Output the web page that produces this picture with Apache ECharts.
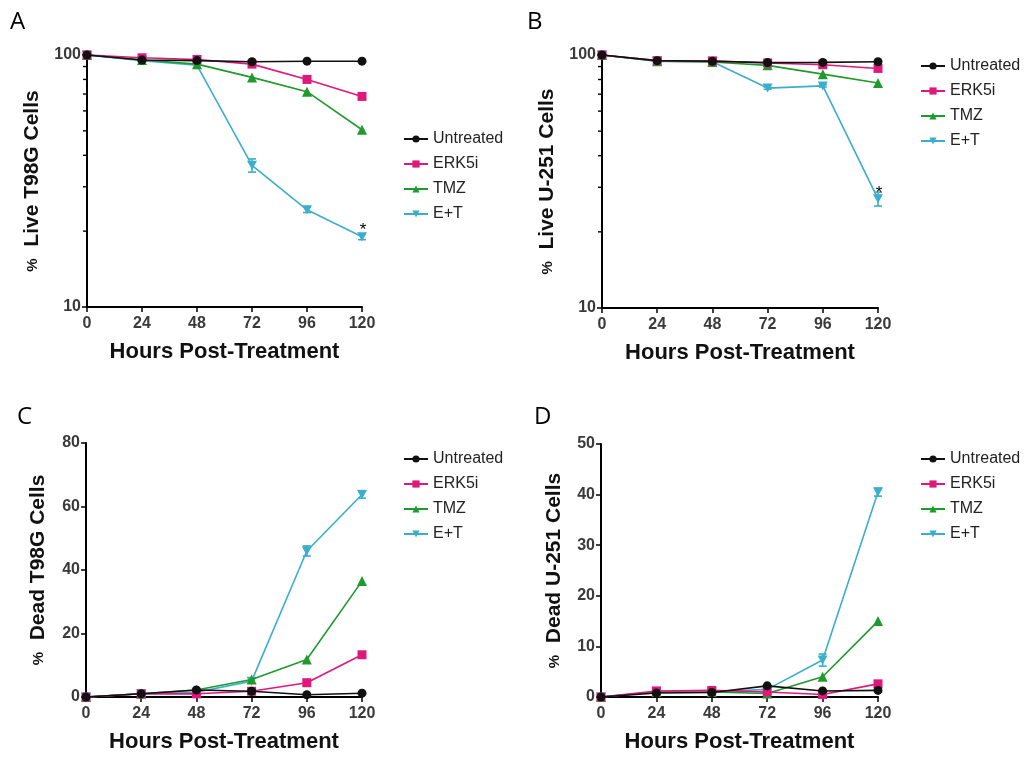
<!DOCTYPE html>
<html>
<head>
<meta charset="utf-8">
<script src="https://cdn.jsdelivr.net/npm/echarts@6/dist/echarts.min.js"></script>
<style>
  html, body { margin: 0; padding: 0; background: #fff; }
  #chart { width: 1025px; height: 758px; }
</style>
</head>
<body>
<div id="chart"></div>
<script>
// Time points (hours after treatment)
const hours = [0, 24, 48, 72, 96, 120];
const groupNames = ['Untreated', 'ERK5i', 'TMZ', 'E+T'];

// A: % live T98G cells
const liveT98G_untreated = [100, 95.5, 95, 94, 94.5, 94.5];
const liveT98G_erk5i = [100, 97.5, 96, 92, 80, 68.5];
const liveT98G_tmz = [100, 95.5, 92, 81.5, 71.5, 50.5];
const liveT98G_et = [100, 95, 91, 36.5, 24.3, 19];
const liveT98G_et_err = [0, 0, 0, 2.2, 0.6, 0.5];

// B: % live U-251 cells
const liveU251_untreated = [100, 95, 94.5, 93.3, 93.5, 94];
const liveU251_erk5i = [100, 95, 94.8, 93, 91.5, 88.5];
const liveU251_tmz = [100, 94.5, 93.8, 91, 84, 77.5];
const liveU251_et = [100, 94.5, 94, 74, 75.5, 27];
const liveU251_et_err = [0, 0, 0, 0.8, 0.8, 1.7];

// C: % dead T98G cells
const deadT98G_untreated = [0, 1, 2.2, 1.8, 0.7, 1.2];
const deadT98G_erk5i = [0, 1, 1, 1.8, 4.5, 13.3];
const deadT98G_tmz = [0, 1, 2.2, 5.5, 11.8, 36.5];
const deadT98G_et = [0, 1, 1.5, 5, 46, 63.8];
const deadT98G_et_err = [0, 0, 0, 0, 1.6, 1.2];

// D: % dead U-251 cells
const deadU251_untreated = [0, 0.8, 0.9, 2.2, 1.2, 1.3];
const deadU251_erk5i = [0, 1.2, 1.3, 1.0, 0.5, 2.6];
const deadU251_tmz = [0, 1, 1, 0.7, 4, 15];
const deadU251_et = [0, 1, 1, 1.5, 7.3, 40.5];
const deadU251_et_err = [0, 0, 0, 0, 1.2, 0.8];

// Axis tick labels and ranges
const xTicks = { min: 0, max: 120, interval: 24 };
const logMinorTicks = [20, 30, 40, 50, 60, 70, 80, 90];
const deadT98GRange = { min: 0, max: 80, interval: 20 };
const deadU251Range = { min: 0, max: 50, interval: 10 };

// Panel titles
const panelLetters = ['A', 'B', 'C', 'D'];
const yTitles = ['Live T98G Cells', 'Live U-251 Cells', 'Dead T98G Cells', 'Dead U-251 Cells'];
const xTitle = 'Hours Post-Treatment';

const colors = ['#111111', '#E0187C', '#1F9A2C', '#3AAECB'];
const symbols = ['circle', 'rect', 'triangle', 'path://M0,0 L10,0 L5,9 Z'];
const symbolSizes = [9, 9, 10, [10, 9]];

const panels = [
  { series: [liveT98G_untreated, liveT98G_erk5i, liveT98G_tmz, liveT98G_et], err: liveT98G_et_err, log: true, star: true },
  { series: [liveU251_untreated, liveU251_erk5i, liveU251_tmz, liveU251_et], err: liveU251_et_err, log: true, star: true },
  { series: [deadT98G_untreated, deadT98G_erk5i, deadT98G_tmz, deadT98G_et], err: deadT98G_et_err, range: deadT98GRange },
  { series: [deadU251_untreated, deadU251_erk5i, deadU251_tmz, deadU251_et], err: deadU251_et_err, range: deadU251Range }
];

const layout = [
  { left: 87, top: 55, width: 275, height: 252, legendLeft: 398, legendTop: 126, nameGap: 44, letter: [10, 10] },
  { left: 602, top: 55, width: 276, height: 253, legendLeft: 915, legendTop: 53, nameGap: 44, letter: [527, 10] },
  { left: 86, top: 443, width: 276, height: 254, legendLeft: 398, legendTop: 446, nameGap: 37, letter: [17, 405] },
  { left: 601, top: 444, width: 277, height: 253, legendLeft: 915, legendTop: 446, nameGap: 36, letter: [534, 405] }
];

const FONT = 'Liberation Sans, Arial, Helvetica, sans-serif';
const axisLine = { show: true, lineStyle: { color: '#000', width: 2 } };
const axisTick = { show: true, inside: false, length: 5, lineStyle: { color: '#000', width: 1.5 } };
const tickLabel = { color: '#3a3a3a', fontFamily: FONT, fontWeight: 'bold', fontSize: 16, hideOverlap: false };

const grid = [], xAxis = [], yAxis = [], legend = [], series = [], graphic = [];

panels.forEach((p, i) => {
  const L = layout[i];
  grid.push({ left: L.left, top: L.top, width: L.width, height: L.height, containLabel: false });

  xAxis.push({
    gridIndex: i, type: 'value', min: xTicks.min, max: xTicks.max, interval: xTicks.interval,
    axisLine, axisTick, splitLine: { show: false },
    axisLabel: Object.assign({ margin: 9 }, tickLabel),
    name: xTitle, nameLocation: 'middle', nameGap: 34,
    nameTextStyle: { color: '#111', fontFamily: FONT, fontWeight: 'bold', fontSize: 22 }
  });

  const yBase = {
    gridIndex: i, axisLine, axisTick, splitLine: { show: false },
    axisLabel: Object.assign({ margin: 6 }, tickLabel),
    name: '{p|%}  ' + yTitles[i], nameLocation: 'middle', nameGap: L.nameGap, nameRotate: 90,
    nameTextStyle: {
      color: '#111', fontFamily: FONT, fontWeight: 'bold', fontSize: 21,
      rich: { p: { fontFamily: FONT, fontWeight: 'bold', fontSize: 15, color: '#111' } }
    }
  };
  if (p.log) {
    yAxis.push(Object.assign(yBase, { type: 'log', logBase: 10, min: 10, max: 100 }));
  } else {
    yAxis.push(Object.assign(yBase, { type: 'value', min: p.range.min, max: p.range.max, interval: p.range.interval }));
  }

  legend.push({
    orient: 'vertical', left: L.legendLeft, top: L.legendTop,
    itemWidth: 24, itemHeight: 9, itemGap: 9,
    data: groupNames,
    textStyle: { color: '#222', fontFamily: FONT, fontSize: 16 }
  });

  // one line per treatment group
  p.series.forEach((vals, k) => {
    const data = vals.map((v, j) => {
      if (p.star && k === 3 && j === vals.length - 1) {
        return {
          value: [hours[j], v],
          label: { show: true, formatter: '*', position: 'top', distance: -7,
                   color: '#000', fontSize: 17, fontFamily: FONT, offset: [1, 0] }
        };
      }
      return [hours[j], v];
    });
    series.push({
      name: groupNames[k], type: 'line', xAxisIndex: i, yAxisIndex: i,
      data, clip: false, z: 10 - k + 2,
      color: colors[k],
      symbol: symbols[k], symbolSize: symbolSizes[k], showSymbol: true,
      lineStyle: { color: colors[k], width: 1.6 },
      itemStyle: { color: colors[k] },
      emphasis: { disabled: true }, animation: false
    });
  });

  // SEM error bars for the combination group
  const errData = hours.map((h, j) => [h, p.series[3][j] - p.err[j], p.series[3][j] + p.err[j], p.err[j]])
    .filter(d => d[3] > 0);
  series.push({
    type: 'custom', xAxisIndex: i, yAxisIndex: i, data: errData, clip: false, z: 9,
    renderItem: (params, api) => {
      const lo = api.coord([api.value(0), api.value(1)]);
      const hi = api.coord([api.value(0), api.value(2)]);
      const w = 4;
      return {
        type: 'group', children: [
          { type: 'line', shape: { x1: lo[0], y1: lo[1], x2: hi[0], y2: hi[1] }, style: { stroke: colors[3], lineWidth: 1.6 } },
          { type: 'line', shape: { x1: lo[0] - w, y1: lo[1], x2: lo[0] + w, y2: lo[1] }, style: { stroke: colors[3], lineWidth: 1.6 } },
          { type: 'line', shape: { x1: hi[0] - w, y1: hi[1], x2: hi[0] + w, y2: hi[1] }, style: { stroke: colors[3], lineWidth: 1.6 } }
        ]
      };
    },
    animation: false, silent: true
  });

  // minor ticks between the decades of the log axis
  if (p.log) {
    series.push({
      type: 'custom', xAxisIndex: i, yAxisIndex: i, clip: false, silent: true, z: 1,
      data: logMinorTicks.map(v => [0, v]),
      renderItem: (params, api) => {
        const pt = api.coord([api.value(0), api.value(1)]);
        return { type: 'line', shape: { x1: pt[0] - 4, y1: pt[1], x2: pt[0], y2: pt[1] }, style: { stroke: '#000', lineWidth: 1.4 } };
      },
      animation: false
    });
  }

  graphic.push({
    type: 'text', left: L.letter[0], top: L.letter[1],
    style: { text: panelLetters[i], fill: '#000', fontFamily: 'Open Sans, Liberation Sans, sans-serif', fontSize: 24 }
  });
});

const chart = echarts.init(document.getElementById('chart'), null, { renderer: 'canvas' });
chart.setOption({
  animation: false,
  backgroundColor: '#fff',
  grid, xAxis, yAxis, legend, series, graphic
});
</script>
</body>
</html>
